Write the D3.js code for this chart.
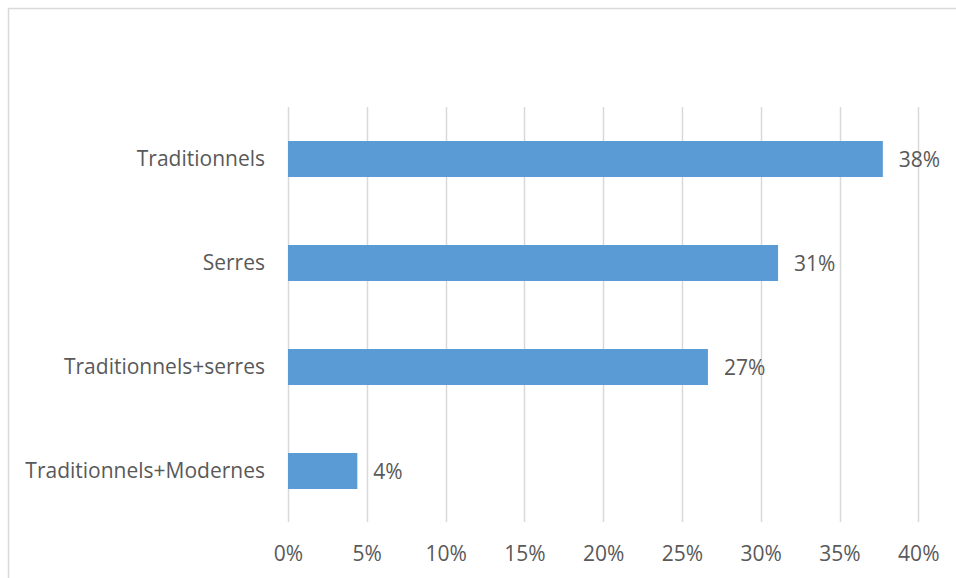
<!DOCTYPE html>
<html>
<head>
<meta charset="utf-8">
<script src="https://cdn.jsdelivr.net/npm/d3@7"></script>
<style>
  html, body { margin: 0; padding: 0; background: #fff; }
  svg { display: block; }
</style>
</head>
<body>
<svg id="chart" width="956" height="578"></svg>
<script>
const categories = ["Traditionnels", "Serres", "Traditionnels+serres", "Traditionnels+Modernes"];
const values = [37.75, 31.1, 26.65, 4.4];
const valueLabels = ["38%", "31%", "27%", "4%"];
const tickValues = [0, 5, 10, 15, 20, 25, 30, 35, 40];

const svg = d3.select("#chart");
const font = "'Open Sans', 'Liberation Sans', sans-serif";
const textColor = "#595959";
const fontSize = "21px";

// chart border (top and left visible)
svg.append("rect")
  .attr("x", 8.5).attr("y", 8.5)
  .attr("width", 1000).attr("height", 1000)
  .attr("fill", "none").attr("stroke", "#D9D9D9").attr("stroke-width", 1.5);

const x = d3.scaleLinear().domain([0, 40]).range([288, 918.3]);
const y = d3.scaleBand().domain(categories).range([107, 523]).paddingInner(0.654).paddingOuter(0.327);

// gridlines
svg.append("g")
  .selectAll("line")
  .data(tickValues)
  .join("line")
  .attr("x1", d => Math.round(x(d)) + 0.5)
  .attr("x2", d => Math.round(x(d)) + 0.5)
  .attr("y1", 107).attr("y2", 522)
  .attr("stroke", "#D9D9D9").attr("stroke-width", 1.5);

// x axis labels
const xAxis = d3.axisBottom(x).tickValues(tickValues).tickFormat(d => d + "%").tickSize(0).tickPadding(0);
const gx = svg.append("g").attr("transform", "translate(0,561)").call(xAxis);
gx.select(".domain").remove();
gx.selectAll("text")
  .attr("fill", textColor).attr("font-family", font).attr("font-size", fontSize)
  .attr("y", 0).attr("dy", "0");

// y axis labels
const yAxis = d3.axisLeft(y).tickSize(0).tickPadding(0);
const gy = svg.append("g").attr("transform", "translate(265,0)").call(yAxis);
gy.select(".domain").remove();
gy.selectAll("text")
  .attr("fill", textColor).attr("font-family", font).attr("font-size", fontSize);

// bars
svg.append("g")
  .selectAll("rect")
  .data(categories)
  .join("rect")
  .attr("x", x(0))
  .attr("y", d => y(d))
  .attr("width", (d, i) => x(values[i]) - x(0))
  .attr("height", y.bandwidth())
  .attr("fill", "#5B9BD5");

// value labels
svg.append("g")
  .selectAll("text")
  .data(categories)
  .join("text")
  .attr("x", (d, i) => x(values[i]) + 16)
  .attr("y", d => y(d) + y.bandwidth() / 2 + 1)
  .attr("dy", "0.35em")
  .attr("fill", textColor).attr("font-family", font).attr("font-size", fontSize)
  .text((d, i) => valueLabels[i]);
</script>
</body>
</html>
